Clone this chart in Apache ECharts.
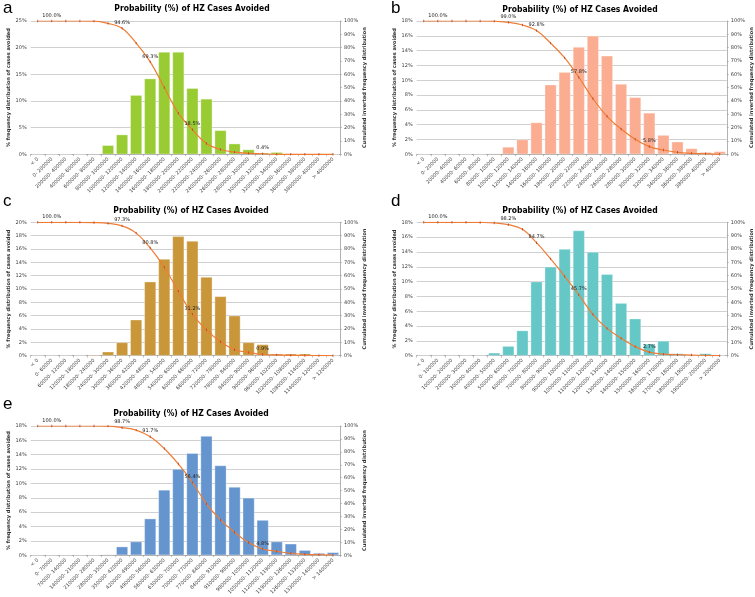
<!DOCTYPE html>
<html>
<head>
<meta charset="utf-8">
<script src="https://cdn.jsdelivr.net/npm/echarts@6/dist/echarts.min.js"></script>
<style>
  html, body { margin: 0; padding: 0; background: #fff; }
  #main { width: 755px; height: 597px; }
</style>
</head>
<body>
<div id="main"></div>
<script>
// a
const catsA = ['< 0', '0- 200000', '200000- 400000', '400000- 600000', '600000- 800000', '800000- 1000000', '1000000- 1200000', '1200000- 1400000', '1400000- 1600000', '1600000- 1800000', '1800000- 2000000', '2000000- 2200000', '2200000- 2400000', '2400000- 2600000', '2600000- 2800000', '2800000- 3000000', '3000000- 3200000', '3200000- 3400000', '3400000- 3600000', '3600000- 3800000', '3800000- 4000000', '> 4000000'];
const barsA = [0, 0, 0, 0, 0.1, 1.7, 3.7, 11.1, 14.2, 19.2, 19.2, 12.4, 10.4, 4.5, 2.0, 0.9, 0.3, 0.4, 0, 0, 0, 0];
const cumA = [100, 100, 100, 100, 99.9, 98.2, 94.6, 83.4, 69.3, 50.1, 30.9, 18.5, 8.1, 3.6, 1.6, 0.7, 0.4, 0, 0, 0, 0, 0];

// b
const catsB = ['< 0', '0- 20000', '20000- 40000', '40000- 60000', '60000- 80000', '80000- 100000', '100000- 120000', '120000- 140000', '140000- 160000', '160000- 180000', '180000- 200000', '200000- 220000', '220000- 240000', '240000- 260000', '260000- 280000', '280000- 300000', '300000- 320000', '320000- 340000', '340000- 360000', '360000- 380000', '380000- 400000', '> 400000'];
const barsB = [0, 0, 0, 0, 0, 0.1, 1.0, 2.0, 4.3, 9.4, 11.1, 14.5, 16.0, 13.3, 9.5, 7.7, 5.6, 2.6, 1.7, 0.8, 0.3, 0.4];
const cumB = [100, 100, 100, 100, 100, 99.9, 99.0, 97.0, 92.8, 83.4, 72.3, 57.8, 41.8, 28.5, 19.0, 11.3, 5.8, 3.2, 1.5, 0.7, 0.4, 0];

// c
const catsC = ['< 0', '0- 60000', '60000- 120000', '120000- 180000', '180000- 240000', '240000- 300000', '300000- 360000', '360000- 420000', '420000- 480000', '480000- 540000', '540000- 600000', '600000- 660000', '660000- 720000', '720000- 780000', '780000- 840000', '840000- 900000', '900000- 960000', '960000- 1020000', '1020000- 1080000', '1080000- 1140000', '1140000- 1200000', '> 1200000'];
const barsC = [0, 0, 0, 0, 0.15, 0.6, 2.0, 5.4, 11.1, 14.5, 17.9, 17.2, 11.8, 8.9, 6.0, 2.0, 1.7, 0.3, 0.3, 0.3, 0.05, 0.05];
const cumC = [100, 100, 100, 100, 99.8, 99.2, 97.3, 91.9, 80.8, 66.3, 48.4, 31.2, 19.4, 10.5, 4.5, 2.5, 0.9, 0.6, 0.3, 0.1, 0.05, 0];

// d
const catsD = ['< 0', '0- 100000', '100000- 200000', '200000- 300000', '300000- 400000', '400000- 500000', '500000- 600000', '600000- 700000', '700000- 800000', '800000- 900000', '900000- 1000000', '1000000- 1100000', '1100000- 1200000', '1200000- 1300000', '1300000- 1400000', '1400000- 1500000', '1500000- 1600000', '1600000- 1700000', '1700000- 1800000', '1800000- 1900000', '1900000- 2000000', '> 2000000'];
const barsD = [0, 0, 0, 0, 0.1, 0.4, 1.3, 3.4, 10.0, 12.0, 14.4, 16.9, 14.0, 11.0, 7.1, 5.0, 1.6, 2.0, 0.3, 0.05, 0.3, 0.1];
const cumD = [100, 100, 100, 100, 99.9, 99.5, 98.2, 94.8, 84.7, 72.6, 59.5, 45.7, 31.0, 20.5, 13.0, 6.8, 2.7, 1.2, 0.7, 0.5, 0.2, 0];

// e
const catsE = ['< 0', '0- 70000', '70000- 140000', '140000- 210000', '210000- 280000', '280000- 350000', '350000- 420000', '420000- 490000', '490000- 560000', '560000- 630000', '630000- 700000', '700000- 770000', '770000- 840000', '840000- 910000', '910000- 980000', '980000- 1050000', '1050000- 1120000', '1120000- 1190000', '1190000- 1260000', '1260000- 1330000', '1330000- 1400000', '> 1400000'];
const barsE = [0, 0, 0, 0, 0, 0.1, 1.2, 1.9, 5.1, 9.1, 12.0, 14.2, 16.6, 12.5, 9.5, 8.0, 4.9, 1.9, 1.6, 0.7, 0.3, 0.4];
const cumE = [100, 100, 100, 100, 100, 99.9, 98.7, 96.8, 91.7, 82.6, 70.6, 56.4, 39.8, 27.3, 17.8, 9.8, 4.8, 3.0, 1.4, 0.7, 0.4, 0];

const leftMax = [25, 18, 20, 18, 18];
const leftStep = [5, 2, 2, 2, 2];
// points of the cumulated line that carry a value label
const labelled = [1, 6, 8, 11, 16];

const titleText = 'Probability (%) of HZ Cases Avoided';
const leftName = '% frequency distribution of cases avoided';
const rightName = 'Cumulated inverted frequency distribution';

const panels = [
  { letter: 'a', cats: catsA, bars: barsA, cum: cumA, color: '#99CC33', grid: [30.7, 21, 309.3, 133.3], lx: 3, ly: 0, tx: 192, ty: 4 },
  { letter: 'b', cats: catsB, bars: barsB, cum: cumB, color: '#FBAD92', grid: [416.7, 21, 312.3, 133.3], lx: 391, ly: 0, tx: 580, ty: 5 },
  { letter: 'c', cats: catsC, bars: barsC, cum: cumC, color: '#C9973A', grid: [30.7, 222.3, 309.3, 133.4], lx: 3, ly: 193, tx: 191, ty: 206 },
  { letter: 'd', cats: catsD, bars: barsD, cum: cumD, color: '#66C7C7', grid: [416.7, 222.3, 311, 133.4], lx: 391, ly: 193, tx: 580, ty: 206 },
  { letter: 'e', cats: catsE, bars: barsE, cum: cumE, color: '#6495CE', grid: [30.7, 426, 309.3, 133.3], lx: 3, ly: 396, tx: 191, ty: 409 }
];

const font = 'DejaVu Sans';
const tickText = { fontFamily: font, fontSize: 5, color: '#404040' };

const chart = echarts.init(document.getElementById('main'));

const option = {
  animation: false,
  title: [],
  grid: [],
  xAxis: [],
  yAxis: [],
  series: []
};

panels.forEach(function (p, k) {
  option.title.push({
    text: p.letter,
    left: p.lx, top: p.ly, padding: 0,
    textStyle: { fontFamily: 'Liberation Sans', fontSize: 17, fontWeight: 'normal', color: '#000' }
  });
  option.title.push({
    text: titleText,
    left: p.tx, top: p.ty, padding: 0, textAlign: 'center',
    textStyle: { fontFamily: "'DejaVu Sans Condensed', 'DejaVu Sans'", fontSize: 8.5, fontWeight: 'bold', color: '#000' }
  });

  option.grid.push({ left: p.grid[0], top: p.grid[1], width: p.grid[2], height: p.grid[3] });

  option.xAxis.push({
    type: 'category',
    gridIndex: k,
    data: p.cats,
    axisLine: { lineStyle: { color: '#A0A0A0', width: 0.8 } },
    axisTick: { show: true, length: 2, lineStyle: { color: '#A0A0A0', width: 0.6 } },
    axisLabel: Object.assign({ interval: 0, rotate: 45, margin: 4, hideOverlap: false }, tickText)
  });

  option.yAxis.push({
    type: 'value',
    gridIndex: k,
    position: 'left',
    min: 0, max: leftMax[k], interval: leftStep[k],
    name: leftName,
    nameLocation: 'middle',
    nameRotate: 90,
    nameGap: 16,
    nameTextStyle: { fontFamily: font, fontSize: 5, fontWeight: 'bold', color: '#303030' },
    axisLine: { show: false },
    axisTick: { show: false },
    splitLine: { lineStyle: { color: '#C4C4C4', width: 0.8 } },
    axisLabel: Object.assign({ formatter: '{value}%', margin: 4 }, tickText)
  });
  option.yAxis.push({
    type: 'value',
    gridIndex: k,
    position: 'right',
    min: 0, max: 100, interval: 10,
    name: rightName,
    nameLocation: 'middle',
    nameRotate: 90,
    nameGap: 19,
    nameTextStyle: { fontFamily: font, fontSize: 5, fontWeight: 'bold', color: '#303030' },
    axisLine: { show: true, lineStyle: { color: '#A0A0A0', width: 0.8 } },
    axisTick: { show: true, length: 2, lineStyle: { color: '#A0A0A0', width: 0.6 } },
    splitLine: { show: false },
    axisLabel: Object.assign({ formatter: '{value}%', margin: 4 }, tickText)
  });

  option.series.push({
    type: 'bar',
    xAxisIndex: k,
    yAxisIndex: 2 * k,
    data: p.bars,
    barCategoryGap: '16%',
    itemStyle: { color: p.color, borderColor: 'rgba(255,255,255,0.55)', borderWidth: 0.6 }
  });

  const lineData = p.cum.map(function (v, i) {
    if (labelled.indexOf(i) >= 0) {
      return { value: v, label: { show: true } };
    }
    return v;
  });
  option.series.push({
    type: 'line',
    xAxisIndex: k,
    yAxisIndex: 2 * k + 1,
    data: lineData,
    smooth: 0.4,
    z: 5,
    symbol: 'rect',
    symbolSize: [0.8, 2.4],
    itemStyle: { color: '#B5452A' },
    lineStyle: { color: '#F07C34', width: 1.2 },
    label: {
      show: false,
      position: 'top',
      distance: 2,
      fontFamily: font,
      fontSize: 5,
      color: '#202020',
      formatter: function (d) { return d.value.toFixed(1) + '%'; }
    }
  });
});

chart.setOption(option);
</script>
</body>
</html>
